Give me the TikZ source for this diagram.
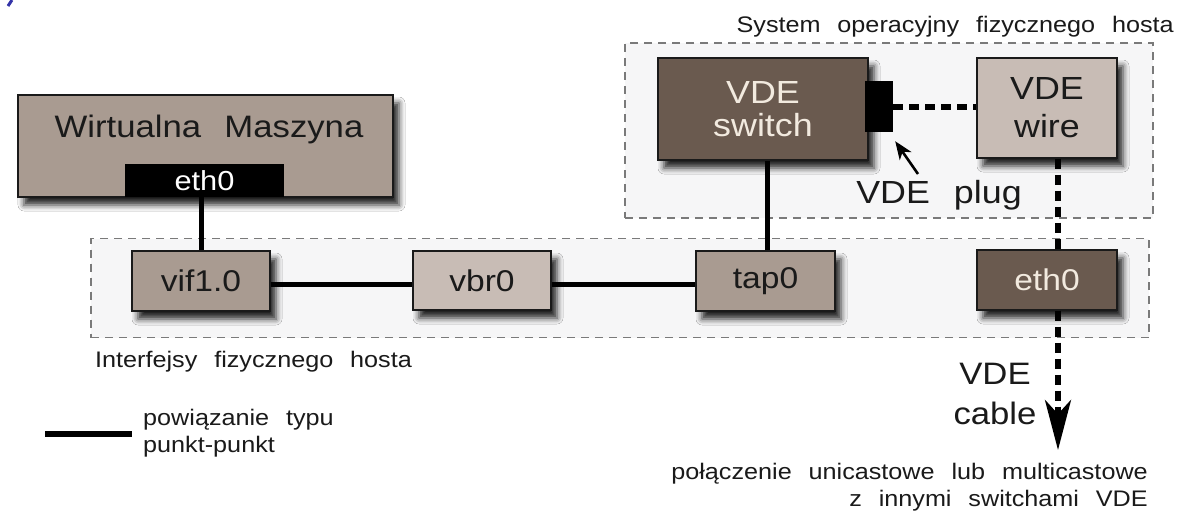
\documentclass[tikz,border=0pt]{standalone}
\usepackage{fontspec}
\setmainfont{Liberation Sans}[FakeStretch=1.12]
\usetikzlibrary{arrows.meta,shadows.blur,calc}
\definecolor{boxA}{HTML}{A99B91}
\definecolor{boxL}{HTML}{C8BCB5}
\definecolor{boxD}{HTML}{6A5A4F}
\definecolor{cream}{HTML}{F2EADF}
\definecolor{framec}{HTML}{7A7A7A}
\definecolor{areac}{HTML}{F6F6F7}
\definecolor{ink}{HTML}{1A1A1A}
\definecolor{markc}{HTML}{3434A8}
\newcommand\fsz[2]{\fontsize{#1}{#2}\selectfont\spaceskip=0.75em\relax}
\tikzset{
  x=1pt, y=-1pt,
  area/.style={draw=framec, fill=areac, line width=1.4pt, dash pattern=on 8pt off 6pt},
  box/.style={draw=ink, line width=1.4pt, inner sep=0pt, text=ink,
    blur shadow={shadow xshift=6pt, shadow yshift=-8pt, shadow blur radius=6pt, shadow opacity=85}},
  lbl/.style={font=\fsz{30}{32}},
  txt/.style={inner sep=0pt, text=ink},
  small/.style={txt, font=\fsz{22.5}{27}},
  p2p/.style={line width=5pt, draw=black},
  vde/.style={line width=5.5pt, draw=black, dash pattern=on 10pt off 6pt},
}
\begin{document}
\begin{tikzpicture}
\useasboundingbox (0,0) rectangle (1187,512);
\fill[white] (0,0) rectangle (1187,512);
% stray mark
\coordinate (m1) at (8,6); \coordinate (m2) at (12,0);
\draw[markc, line width=3pt] (m1) -- (m2);
% areas
\node[area, minimum width=528pt, minimum height=175pt] (osarea) at (889,130.5) {};
\node[area, minimum width=1058pt, minimum height=99pt] (ifarea) at (620,288) {};
\node[small, anchor=base east] (oslabel) at (1174,32) {System operacyjny fizycznego hosta};
\node[small, anchor=base west] (iflabel) at (95,367) {Interfejsy fizycznego hosta};
% virtual machine
\node[box, fill=boxA, minimum width=375pt, minimum height=102pt] (vm) at (205.5,146) {};
\node[txt, anchor=base, font=\fsz{31}{34}] (vmlabel) at (209,137) {Wirtualna Maszyna};
\node[fill=black, inner sep=0pt, minimum width=159pt, minimum height=33pt, text=white, font=\fsz{27.5}{30}] (vmeth) at (204.5,180.5) {eth0};
% interfaces
\node[box, lbl, fill=boxA, minimum width=138pt, minimum height=60pt] (vif) at (201,281) {vif1.0};
\node[box, lbl, fill=boxL, minimum width=138pt, minimum height=59pt] (vbr) at (482,280.5) {vbr0};
\node[box, lbl, fill=boxA, minimum width=139pt, minimum height=60pt] (tap) at (765.5,281) {tap0};
\node[box, lbl, fill=boxD, text=cream, minimum width=140pt, minimum height=60pt] (eth) at (1047,280) {eth0};
% VDE
\node[box, fill=boxD, text=cream, align=center, font=\fsz{32}{33}, minimum width=210pt, minimum height=102pt] (sw) at (763,109) {VDE\\switch};
\node[fill=black, inner sep=0pt, minimum width=28pt, minimum height=51pt] (plug) at (879,106.5) {};
\node[box, fill=boxL, align=center, font=\fsz{32}{38}, minimum width=140pt, minimum height=100pt] (wire) at (1047,108) {VDE\\wire};
\node[txt, anchor=base, font=\fsz{32}{36}] (pluglabel) at (939,203) {VDE plug};
\node[txt, align=center, font=\fsz{31}{40}] (cablelabel) at (995,394) {VDE\\cable};
% connectors
\draw[p2p] (vif.north) -- (vif.north |- vmeth.south);
\draw[p2p] (vif.east |- 0,284) -- (vbr.west |- 0,284);
\draw[p2p] (vbr.east |- 0,284) -- (tap.west |- 0,284);
\draw[p2p] ($(tap.north)+(1.5,0)$) -- ($(tap.north |- sw.south)+(1.5,0)$);
\draw[vde] (plug.east |- 0,107) -- (wire.west |- 0,107);
\coordinate (wdown) at ($(wire.south)+(11,0)$);
\coordinate (eup) at ($(eth.north)+(11,0)$);
\coordinate (edown) at ($(eth.south)+(11,0)$);
\coordinate (cableend) at (1058,450);
\draw[vde] (wdown) -- (eup);
\draw[vde, -{Stealth[length=50pt, width=26pt, inset=14pt]}] (edown) -- (cableend);
% plug pointer
\coordinate (ptrstart) at (918,174);
\draw[line width=2.6pt, -{Stealth[length=18pt, width=14pt, inset=5pt]}] (ptrstart) -- ($(plug.south east)+(2,9)$);
% legend
\coordinate (legA) at (45,434); \coordinate (legB) at (132,434);
\draw[p2p, line width=6pt] (legA) -- (legB);
\node[small, anchor=west, align=left] (legtext) at (143,433) {powiązanie typu\\punkt-punkt};
\node[small, anchor=east, align=right] (bottomtext) at (1148,487) {połączenie unicastowe lub multicastowe\\z innymi switchami VDE};
\end{tikzpicture}
\end{document}
